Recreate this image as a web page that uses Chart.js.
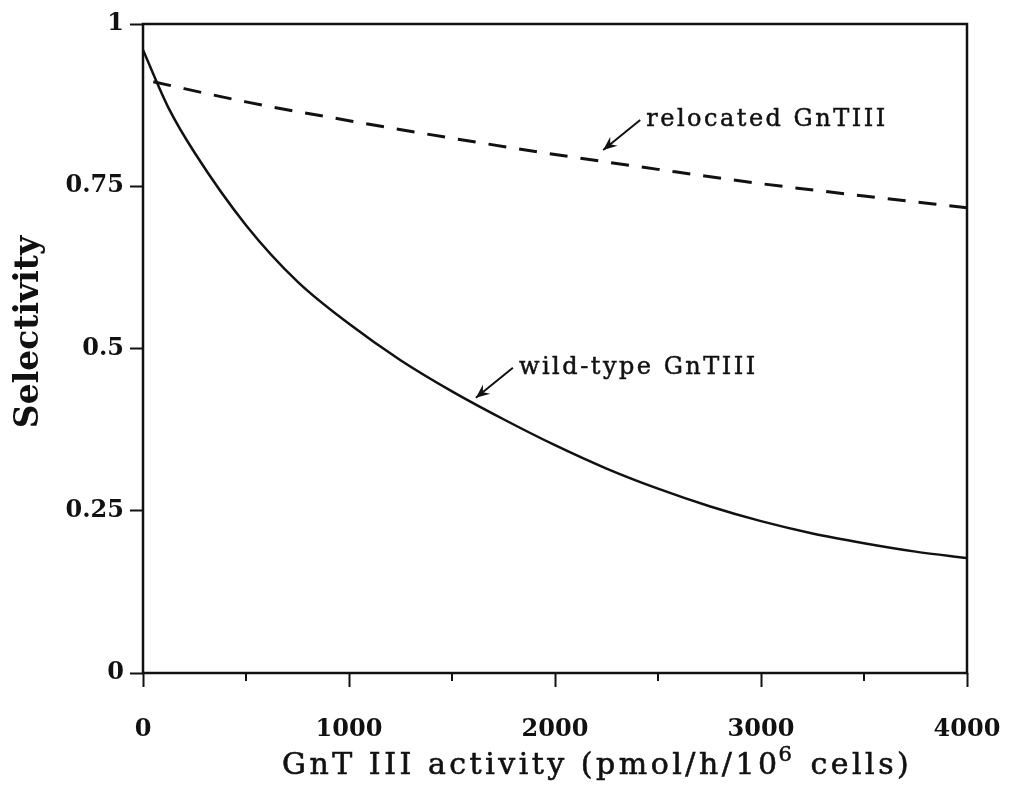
<!DOCTYPE html>
<html>
<head>
<meta charset="utf-8">
<script src="https://cdn.jsdelivr.net/npm/chart.js@4"></script>
<style>
  body { margin: 0; background: #fff; }
  #wrap { width: 1018px; height: 804px; }
</style>
</head>
<body>
<div id="wrap"><canvas id="sel-graph" width="1018" height="804"></canvas></div>
<script>
// * Data
const wildX = [0, 125, 250, 500, 750, 1000, 1250, 1500, 1750, 2000, 2250, 2500, 2750, 3000, 3250, 3500, 3750, 4000];
const wildY = [0.96, 0.87, 0.802, 0.69, 0.603, 0.538, 0.482, 0.434, 0.391, 0.351, 0.315, 0.284, 0.257, 0.234, 0.215, 0.2, 0.187, 0.177];

const relocX = [50, 500, 1000, 1500, 2000, 2500, 3000, 3500, 4000];
const relocY = [0.911, 0.88, 0.851, 0.824, 0.799, 0.776, 0.754, 0.735, 0.717];

const xTicks = [0, 1000, 2000, 3000, 4000];
const xMinorTicks = [500, 1500, 2500, 3500];
const yTicks = [0, 0.25, 0.5, 0.75, 1];

const xTitle = ["GnT III activity (pmol/h/10", "6", " cells)"];
const yTitle = "Selectivity";

// labels with arrows: tip sits on the curve (data coords)
const notes = [
  { text: "relocated GnTIII", x: 2234, y: 0.806 },
  { text: "wild-type GnTIII", x: 1616, y: 0.424 },
];

const serif = "'DejaVu Serif', 'Liberation Serif', serif";

const toPoints = (xs, ys) => xs.map((x, i) => ({ x: x, y: ys[i] }));

// * Frame, minor ticks, titles and notes
const extras = {
  id: "extras",
  afterDraw(chart) {
    const ctx = chart.ctx;
    const a = chart.chartArea;
    const xs = chart.scales.x;
    const ys = chart.scales.y;

    ctx.save();
    ctx.strokeStyle = "#111";
    ctx.lineWidth = 2.5;
    ctx.strokeRect(a.left, a.top, a.right - a.left, a.bottom - a.top);

    // minor x ticks
    ctx.lineWidth = 2;
    xMinorTicks.forEach((v) => {
      const px = xs.getPixelForValue(v);
      ctx.beginPath();
      ctx.moveTo(px, a.bottom);
      ctx.lineTo(px, a.bottom + 8);
      ctx.stroke();
    });

    ctx.fillStyle = "#111";
    ctx.lineWidth = 0.6;

    // x title with superscript
    ctx.letterSpacing = "3.5px";
    ctx.textBaseline = "alphabetic";
    ctx.textAlign = "left";
    const part = (txt, size, x, y) => {
      ctx.font = size + "px " + serif;
      ctx.fillText(txt, x, y);
      ctx.strokeText(txt, x, y);
      return ctx.measureText(txt).width;
    };
    let tx = 282;
    tx += part(xTitle[0], 30, tx, 774);
    tx += part(xTitle[1], 21, tx - 2, 761);
    part(xTitle[2], 30, tx, 774);

    // y title
    ctx.letterSpacing = "0px";
    ctx.save();
    ctx.translate(38, 332);
    ctx.rotate(-Math.PI / 2);
    ctx.textAlign = "center";
    ctx.font = "bold 33px " + serif;
    ctx.fillText(yTitle, 0, 0);
    ctx.restore();

    // notes with arrows
    ctx.letterSpacing = "2.5px";
    ctx.font = "24px " + serif;
    notes.forEach((n) => {
      const px = xs.getPixelForValue(n.x);
      const py = ys.getPixelForValue(n.y);
      const tailX = px + 37;
      const tailY = py - 30;
      ctx.lineWidth = 2;
      ctx.beginPath();
      ctx.moveTo(tailX, tailY);
      ctx.lineTo(px, py);
      ctx.stroke();
      const ang = Math.atan2(py - tailY, px - tailX);
      ctx.beginPath();
      ctx.moveTo(px, py);
      ctx.lineTo(px - 15 * Math.cos(ang - 0.4), py - 15 * Math.sin(ang - 0.4));
      ctx.lineTo(px - 9 * Math.cos(ang), py - 9 * Math.sin(ang));
      ctx.lineTo(px - 15 * Math.cos(ang + 0.4), py - 15 * Math.sin(ang + 0.4));
      ctx.closePath();
      ctx.fill();
      ctx.lineWidth = 0.5;
      ctx.fillText(n.text, tailX + 6, tailY + 6);
      ctx.strokeText(n.text, tailX + 6, tailY + 6);
    });
    ctx.restore();
  },
};

// * Chart
const sg = document.getElementById("sel-graph").getContext("2d");

const selChart = new Chart(sg, {
  type: "scatter",
  data: {
    datasets: [
      {
        label: "wild-type GnTIII",
        data: toPoints(wildX, wildY),
        showLine: true,
        borderColor: "#111",
        borderWidth: 2.5,
        pointRadius: 0,
        cubicInterpolationMode: "monotone",
      },
      {
        label: "relocated GnTIII",
        data: toPoints(relocX, relocY),
        showLine: true,
        borderColor: "#111",
        borderWidth: 3,
        borderDash: [18, 13],
        pointRadius: 0,
        cubicInterpolationMode: "monotone",
      },
    ],
  },
  options: {
    responsive: false,
    animation: false,
    layout: { padding: { top: 24, right: 51, left: 0, bottom: 0 } },
    plugins: { legend: { display: false }, tooltip: { enabled: false } },
    scales: {
      x: {
        type: "linear",
        min: 0,
        max: 4000,
        afterFit: (s) => {
          s.height = 131;
          s.paddingLeft = 0;
          s.paddingRight = 0;
        },
        afterBuildTicks: (s) => { s.ticks = xTicks.map((v) => ({ value: v })); },
        ticks: {
          color: "#111",
          font: { family: serif, size: 24, weight: "bold" },
          padding: 28,
          maxRotation: 0,
          callback: (v) => String(v),
        },
        grid: { drawOnChartArea: false, tickLength: 14, tickWidth: 2, tickColor: "#111" },
        border: { display: false },
      },
      y: {
        min: 0,
        max: 1,
        afterFit: (s) => {
          s.width = 143;
          s.paddingTop = 0;
          s.paddingBottom = 0;
        },
        afterBuildTicks: (s) => { s.ticks = yTicks.map((v) => ({ value: v })); },
        ticks: {
          color: "#111",
          font: { family: serif, size: 24, weight: "bold" },
          padding: 6,
          callback: (v) => String(v),
        },
        grid: { drawOnChartArea: false, tickLength: 13, tickWidth: 2, tickColor: "#111" },
        border: { display: false },
      },
    },
  },
  plugins: [extras],
});
</script>
</body>
</html>
